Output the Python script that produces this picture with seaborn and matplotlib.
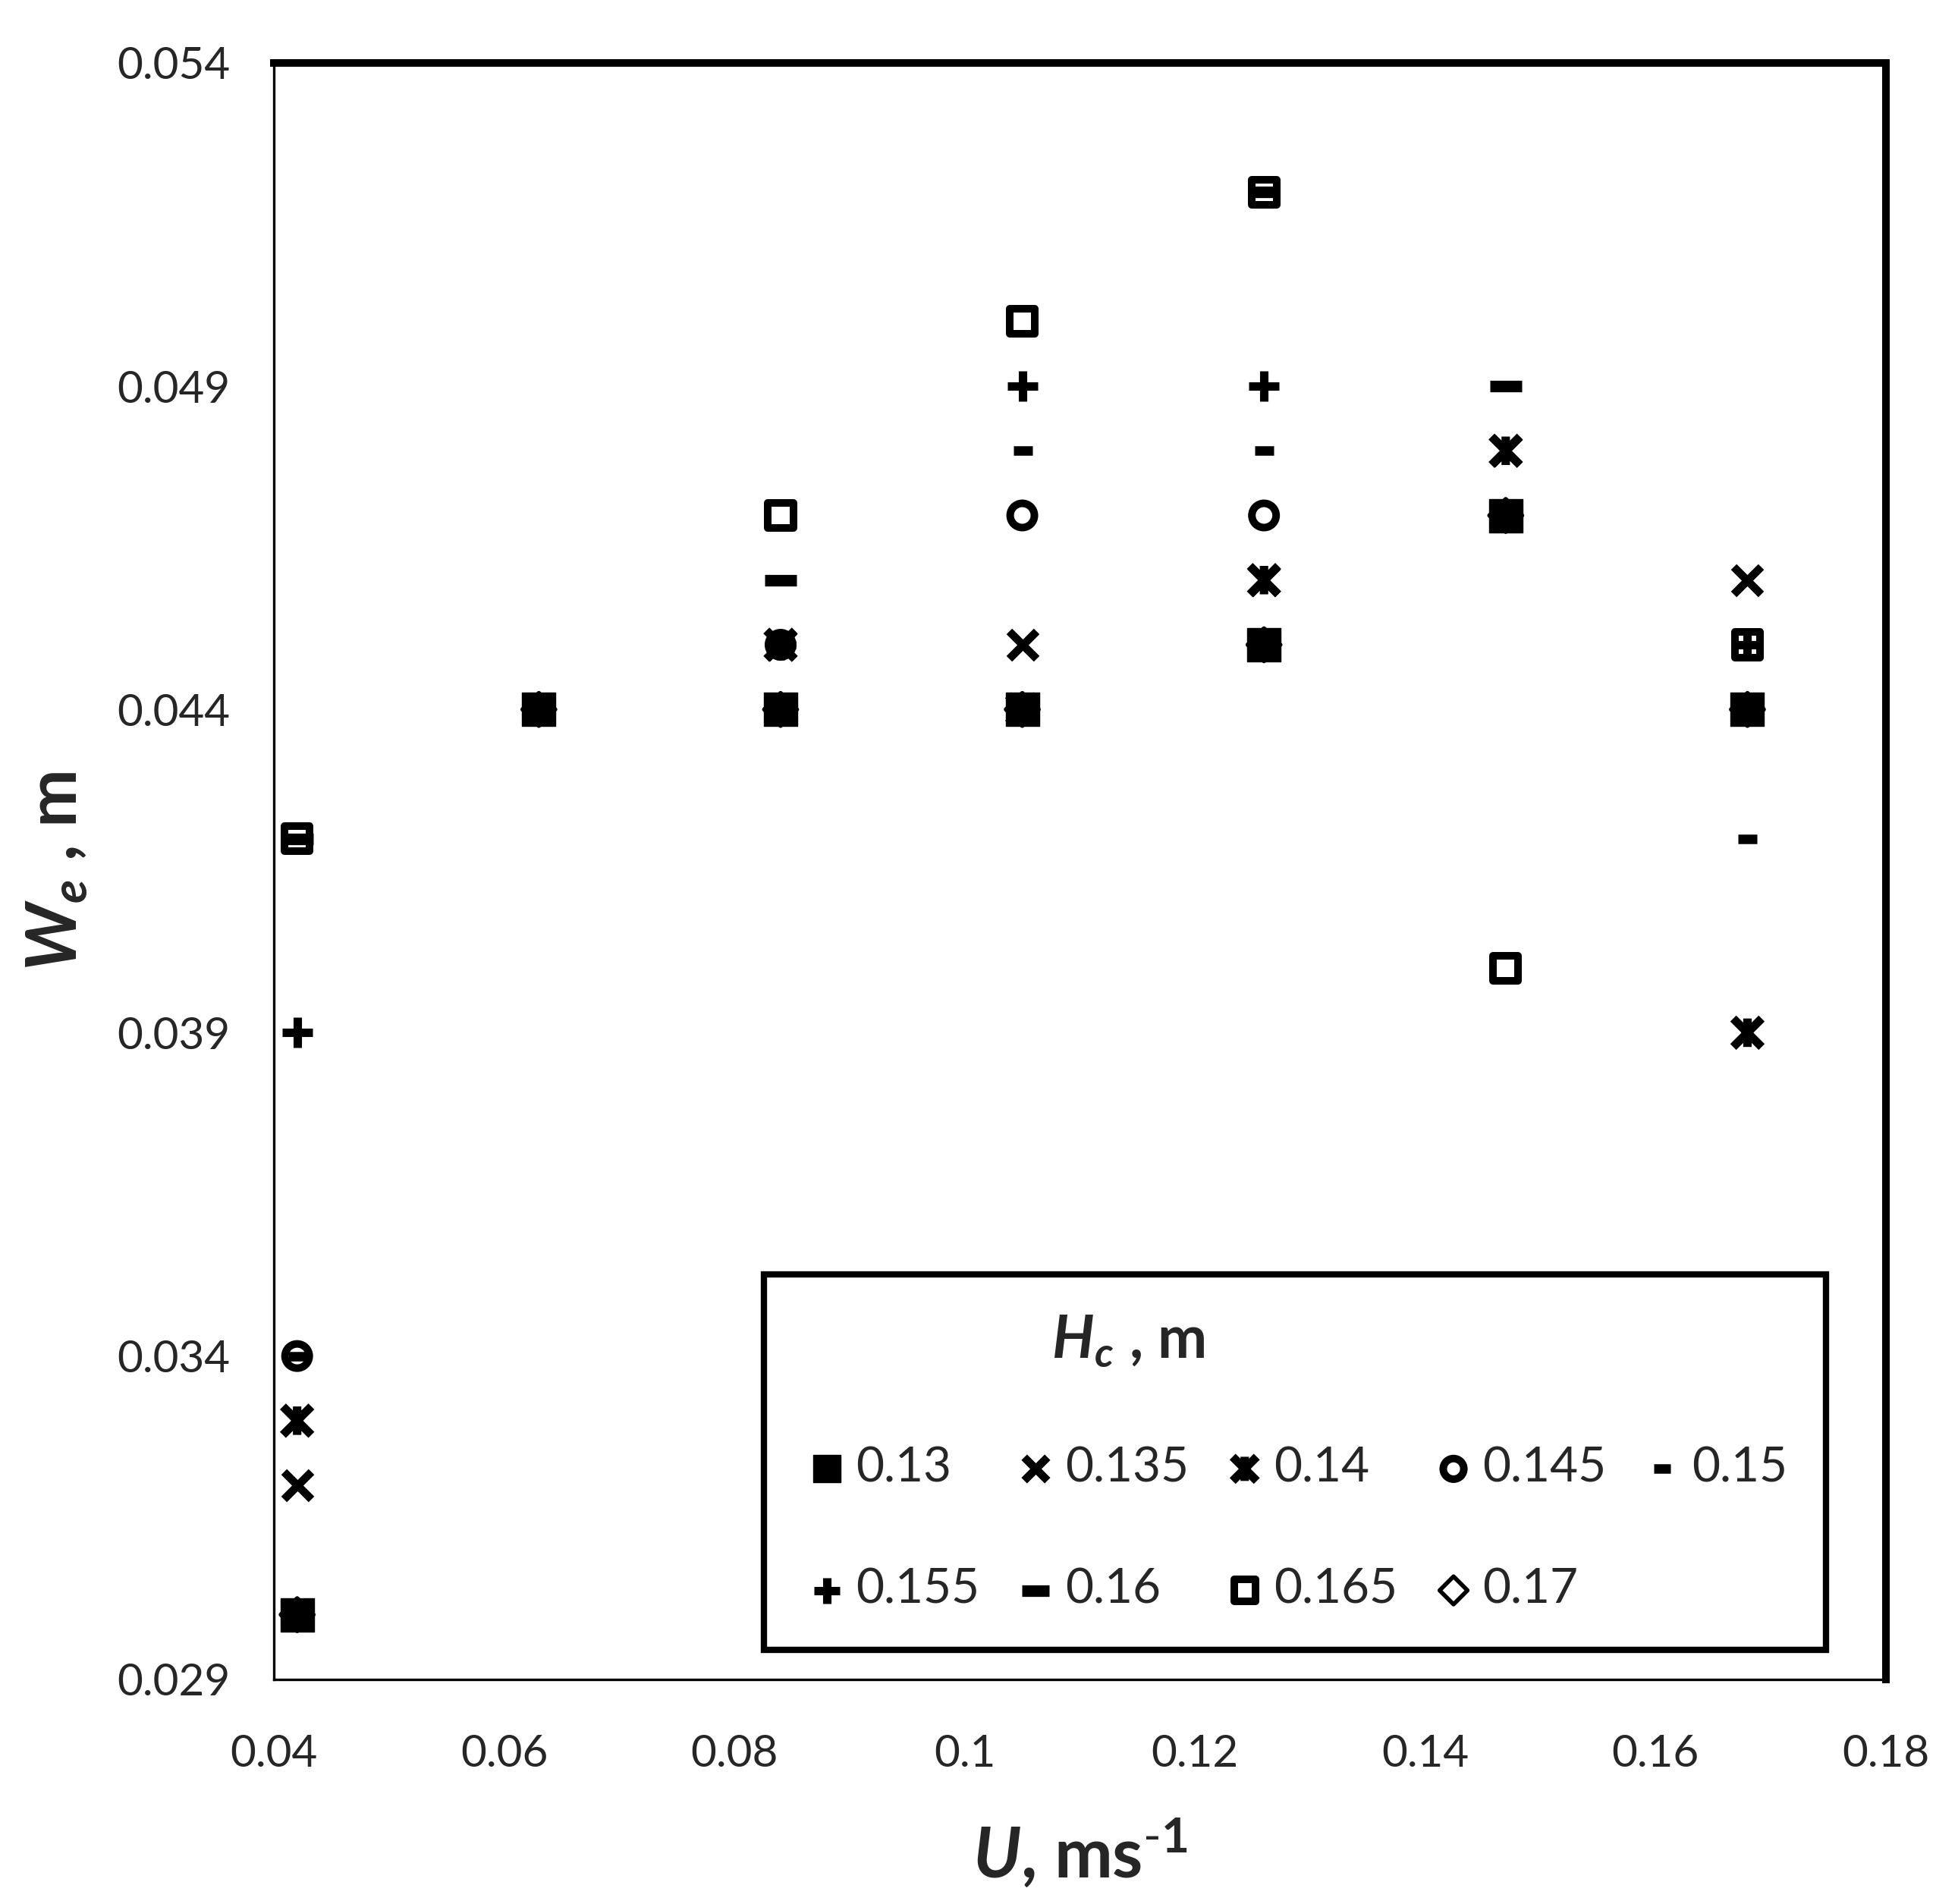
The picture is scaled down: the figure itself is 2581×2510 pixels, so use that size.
import matplotlib
matplotlib.use("Agg")
import matplotlib.pyplot as plt
import seaborn as sns
import numpy as np
from matplotlib.path import Path

# velocity U (m/s) for each column of points
U = [0.042, 0.063, 0.084, 0.105, 0.126, 0.147, 0.168]

# W_e (m) for each crest height H_c, nan = no point
nan = np.nan
We_013 = [0.030, 0.044, 0.044, 0.044, 0.045, 0.047, 0.044]
We_0135 = [0.032, nan, 0.045, 0.045, 0.046, 0.048, 0.046]
We_014 = [0.033, nan, 0.045, 0.044, 0.046, 0.048, 0.039]
We_0145 = [0.034, nan, 0.045, 0.047, 0.047, 0.047, 0.044]
We_015 = [0.034, nan, 0.044, 0.048, 0.048, 0.047, 0.042]
We_0155 = [0.039, nan, 0.045, 0.049, 0.049, 0.047, 0.045]
We_016 = [0.042, nan, 0.046, 0.044, 0.052, 0.049, 0.044]
We_0165 = [0.042, nan, 0.047, 0.050, 0.052, 0.040, 0.045]
We_017 = [0.030, 0.044, 0.044, 0.044, 0.045, 0.047, 0.044]

Hc_labels = ["0.13", "0.135", "0.14", "0.145", "0.15", "0.155", "0.16", "0.165", "0.17"]
series = [We_013, We_0135, We_014, We_0145, We_015, We_0155, We_016, We_0165, We_017]

y_ticks = [0.029, 0.034, 0.039, 0.044, 0.049, 0.054]
x_ticks = [0.04, 0.06, 0.08, 0.1, 0.12, 0.14, 0.16, 0.18]

# asterisk marker: X with a vertical bar
aster = Path([(-1, -1), (1, 1), (-1, 1), (1, -1), (0, -1), (0, 1)],
             [Path.MOVETO, Path.LINETO, Path.MOVETO, Path.LINETO, Path.MOVETO, Path.LINETO])

# marker, size(pt), face, linewidth
styles = [
    ("s", 15.5, "black", 0.5),
    ("x", 13, "black", 3.8),
    (aster, 13.5, "none", 4.0),
    ("o", 11.5, "none", 3.6),
    ("_", 9, "black", 4.5),
    ("+", 14.5, "black", 4.0),
    ("_", 15, "black", 5.5),
    ("s", 12, "none", 3.6),
    ("D", 11, "none", 2.0),
]

sns.set_style("white")
plt.rcParams["font.family"] = ["Lato", "DejaVu Sans"]
plt.rcParams["mathtext.fontset"] = "custom"
plt.rcParams["mathtext.rm"] = "Lato"
plt.rcParams["mathtext.it"] = "Lato:italic"
plt.rcParams["mathtext.bf"] = "Lato:bold"
plt.rcParams["mathtext.bfit"] = "Lato:italic:bold"

fig = plt.figure(figsize=(12.905, 12.55), dpi=200)
ax = fig.add_axes([0.140, 0.118, 0.823, 0.849])

for lab, ys, (mk, ms, fc, lw) in zip(Hc_labels, series, styles):
    if fc == "none":
        sns.scatterplot(x=U, y=ys, ax=ax, marker=mk, s=ms ** 2, facecolor="none",
                        edgecolor="black", linewidth=lw, label=lab, zorder=3)
    else:
        sns.scatterplot(x=U, y=ys, ax=ax, marker=mk, s=ms ** 2, color="black",
                        edgecolor="black", linewidth=lw, label=lab, zorder=3)

ax.set_xlim(0.04, 0.18)
ax.set_ylim(0.029, 0.054)
ax.set_xticks(x_ticks)
ax.set_xticklabels([f"{v:g}" for v in x_ticks])
ax.set_yticks(y_ticks)
ax.set_yticklabels([f"{v:.3f}" for v in y_ticks])
ax.tick_params(axis="both", length=0, labelsize=21)
ax.tick_params(axis="y", pad=21)
ax.tick_params(axis="x", pad=26)

for side in ["left", "bottom"]:
    ax.spines[side].set_linewidth(1.2)
    ax.spines[side].set_color("black")
for side in ["top", "right"]:
    ax.spines[side].set_linewidth(3.6)
    ax.spines[side].set_color("black")

ax.set_xlabel(r"$\mathbfit{U}$, ms$^{\text{-}\mathbf{1}}$", fontsize=33, fontweight="bold")
ax.set_ylabel(r"$\mathbfit{W_e}$ , m", fontsize=33, fontweight="bold")
ax.xaxis.set_label_coords(0.5, -0.085)
ax.yaxis.set_label_coords(-0.115, 0.5)

# row-major legend order (matplotlib fills columns first)
handles, labels = ax.get_legend_handles_labels()
order = [0, 5, 1, 6, 2, 7, 3, 8, 4]
leg = ax.legend([handles[i] for i in order], [labels[i] for i in order],
                ncol=5, loc="lower left", bbox_to_anchor=(0.304, 0.018, 0.659, 0.231),
                mode="expand", fontsize=23, title=r"$\mathbfit{H_c}$ , m",
                title_fontproperties={"size": 28, "weight": "bold"},
                frameon=True, fancybox=False, edgecolor="black", framealpha=1,
                handletextpad=0.1, handlelength=1.0, labelspacing=1.6,
                borderpad=0.8, borderaxespad=0, columnspacing=0.5, markerscale=0.85)
leg.get_frame().set_linewidth(3.0)
leg.get_title().set_position((-220, 0))

fig.savefig("out.png", dpi=200)
